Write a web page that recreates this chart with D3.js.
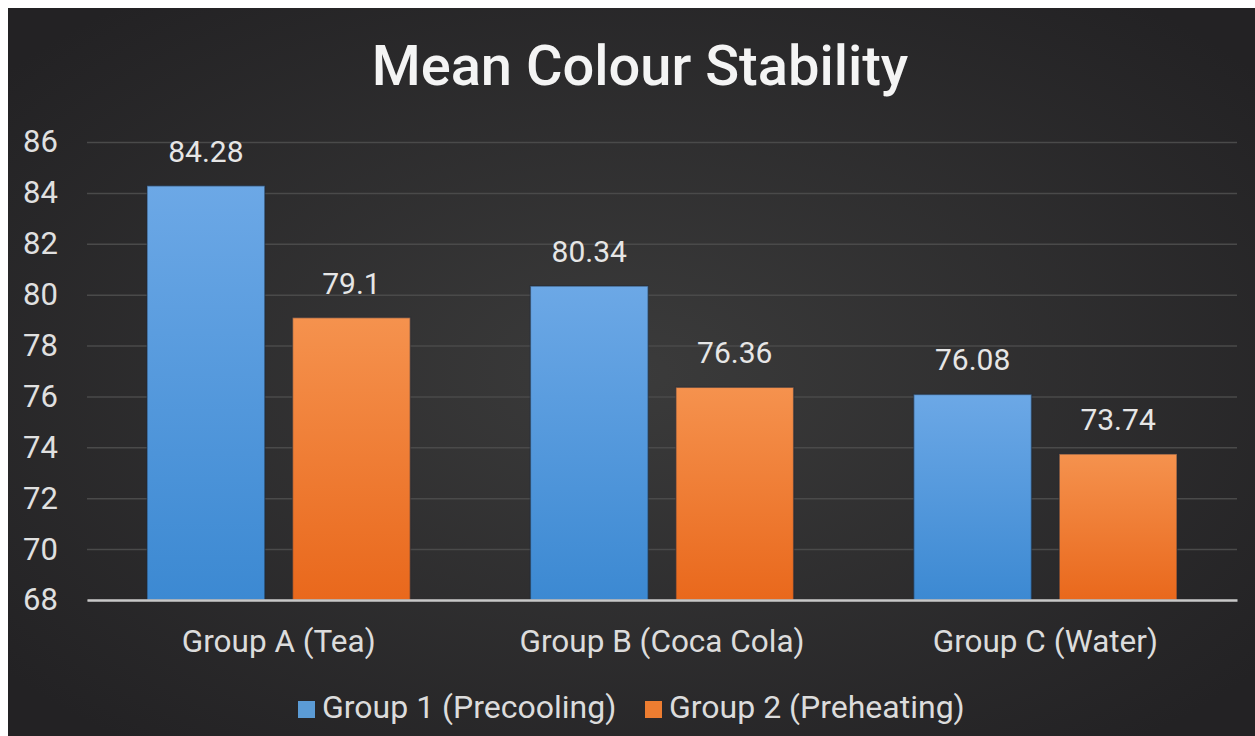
<!DOCTYPE html>
<html>
<head>
  <meta charset="utf-8">
  <title>Mean Colour Stability</title>
  <script src="https://d3js.org/d3.v7.min.js"></script>
  <style>
    body {
      margin: 0;
      padding: 0;
      background: #fff;
    }
    text {
      font-family: Roboto, "Noto Sans", sans-serif;
    }
  </style>
</head>
<body>
  <div id="chart"></div>
  <script>
    // data
    var categories = ["Group A (Tea)", "Group B (Coca Cola)", "Group C (Water)"]
    var seriesNames = ["Group 1 (Precooling)", "Group 2 (Preheating)"]
    var precooling = [84.28, 80.34, 76.08]
    var preheating = [79.1, 76.36, 73.74]
    var yTicks = [68, 70, 72, 74, 76, 78, 80, 82, 84, 86]
    var labelText = [["84.28", "80.34", "76.08"], ["79.1", "76.36", "73.74"]]

    var W = 1255, H = 736
    var margin = { top: 142, right: 18, bottom: 136, left: 87 }
    var width = W - margin.left - margin.right,
      height = H - margin.top - margin.bottom

    var svg = d3.select("#chart").append("svg")
      .attr("width", W)
      .attr("height", H)

    var defs = svg.append("defs")
    var bg = defs.append("radialGradient").attr("id", "bg")
      .attr("cx", "50%").attr("cy", "50%").attr("r", "65%")
    bg.append("stop").attr("offset", "0%").attr("stop-color", "#3b3b3b")
    bg.append("stop").attr("offset", "100%").attr("stop-color", "#232224")

    var gBlue = defs.append("linearGradient").attr("id", "gBlue")
      .attr("x1", 0).attr("y1", 0).attr("x2", 0).attr("y2", 1)
    gBlue.append("stop").attr("offset", "0%").attr("stop-color", "#6ca8e6")
    gBlue.append("stop").attr("offset", "100%").attr("stop-color", "#3c89d2")
    var gOrange = defs.append("linearGradient").attr("id", "gOrange")
      .attr("x1", 0).attr("y1", 0).attr("x2", 0).attr("y2", 1)
    gOrange.append("stop").attr("offset", "0%").attr("stop-color", "#f5924e")
    gOrange.append("stop").attr("offset", "100%").attr("stop-color", "#e9681c")
    var fills = ["url(#gBlue)", "url(#gOrange)"]
    var swatch = ["#5b9bd5", "#ed7d31"]

    // white strip round top and left, like the photo
    svg.append("rect")
      .attr("x", 8).attr("y", 8)
      .attr("width", W - 8).attr("height", H - 8)
      .attr("fill", "url(#bg)")

    var g = svg.append("g")
      .attr("transform", "translate(" + margin.left + "," + margin.top + ")")

    var x0 = d3.scaleBand()
      .domain(categories)
      .range([0, width])
    var x1 = d3.scaleBand()
      .domain([0, 1])
      .range([60, x0.bandwidth() - 60])
      .paddingInner(0.19)
    var y = d3.scaleLinear()
      .domain([68, 86])
      .range([height, 0])

    // gridlines
    g.append("g")
      .call(d3.axisLeft(y).tickValues(yTicks).tickSize(-width).tickFormat(""))
      .call(function (a) {
        a.select(".domain").remove()
        a.selectAll("line").attr("stroke", "#4a4a4a").attr("stroke-width", 1.5)
      })

    // y labels
    g.append("g")
      .call(d3.axisLeft(y).tickValues(yTicks).tickSize(0))
      .call(function (a) {
        a.select(".domain").remove()
        a.selectAll("text")
          .attr("fill", "#e0e0e0")
          .attr("font-size", 31)
          .attr("text-anchor", "start")
          .attr("x", 23 - margin.left)
      })

    var series = [precooling, preheating]

    series.forEach(function (vals, s) {
      g.selectAll(".bar" + s)
        .data(vals)
        .enter().append("rect")
        .attr("x", function (d, i) { return x0(categories[i]) + x1(s) })
        .attr("y", function (d) { return y(d) })
        .attr("width", x1.bandwidth())
        .attr("height", function (d) { return height - y(d) })
        .attr("fill", fills[s])
        .attr("stroke", "#1e2a3a")
        .attr("stroke-opacity", 0.5)
        .attr("stroke-width", 1.5)

      g.selectAll(".lbl" + s)
        .data(vals)
        .enter().append("text")
        .attr("x", function (d, i) { return x0(categories[i]) + x1(s) + x1.bandwidth() / 2 })
        .attr("y", function (d) { return y(d) - 24 })
        .attr("text-anchor", "middle")
        .attr("fill", "#e6e6e6")
        .attr("font-size", 30)
        .text(function (d, i) { return labelText[s][i] })
    })

    // x axis
    g.append("g")
      .attr("transform", "translate(0," + height + ")")
      .call(d3.axisBottom(x0).tickSize(0).tickPadding(30))
      .call(function (a) {
        a.select(".domain").attr("stroke", "#c8c8c8").attr("stroke-width", 2.5)
        a.selectAll("text").attr("fill", "#dcdcdc").attr("font-size", 31.5)
      })

    // title
    svg.append("text")
      .attr("x", 640)
      .attr("y", 85)
      .attr("text-anchor", "middle")
      .attr("fill", "#f4f4f4")
      .attr("font-size", 56)
      .attr("font-weight", 500)
      .text("Mean Colour Stability")

    // legend
    var legend = svg.append("g").attr("transform", "translate(298,718)")
    var lx = [0, 347]
    seriesNames.forEach(function (n, i) {
      legend.append("rect")
        .attr("x", lx[i]).attr("y", -17)
        .attr("width", 17).attr("height", 17)
        .attr("fill", swatch[i])
      legend.append("text")
        .attr("x", lx[i] + 24).attr("y", 0)
        .attr("fill", "#dcdcdc")
        .attr("font-size", 32)
        .text(n)
    })
  </script>
</body>
</html>
